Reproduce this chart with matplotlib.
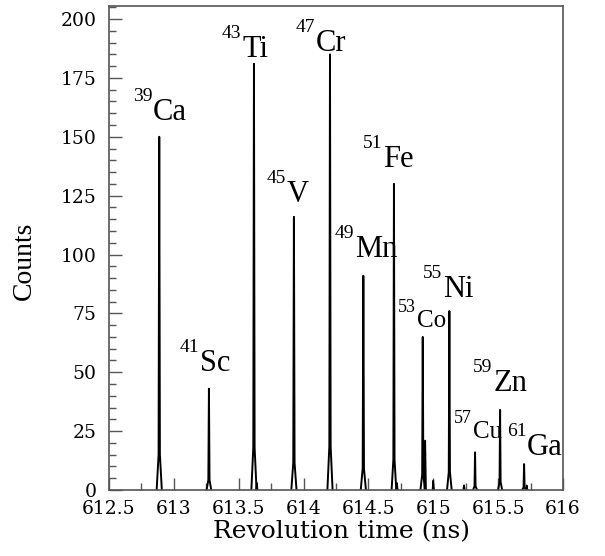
import numpy as np
import matplotlib
matplotlib.use("Agg")
import matplotlib.pyplot as plt
from matplotlib.ticker import MultipleLocator

# peak data
isotopes = ['39Ca', '41Sc', '43Ti', '45V', '47Cr', '49Mn', '51Fe',
            '53Co', '55Ni', '57Cu', '59Zn', '61Ga']
peak_time = [612.888, 613.271, 613.618, 613.926, 614.204, 614.461, 614.697,
             614.919, 615.124, 615.322, 615.515, 615.700]
peak_counts = [150, 43, 181, 116, 185, 91, 130, 65, 76, 16, 34, 11]
peak_halfwidth = [0.020, 0.018, 0.020, 0.020, 0.020, 0.020, 0.018,
                  0.018, 0.018, 0.016, 0.016, 0.016]

# shoulders and small background bins
extra_time = [614.938, 615.000, 615.237, 615.720, 613.640, 614.720]
extra_counts = [21, 4, 2, 2, 3, 3]

# where each label sits (left of mass number, text baseline)
label_x = [612.685, 613.047, 613.371, 613.718, 613.942, 614.242, 614.458,
           614.728, 614.921, 615.160, 615.306, 615.569]
label_y = [157.1, 50.5, 183.9, 122.3, 186.4, 98.9, 137.1,
           69.2, 81.9, 22.1, 42.0, 14.9]
small_labels = ['53Co', '57Cu']

fig = plt.figure(figsize=(6.05, 5.56), dpi=100)
ax = fig.add_axes([0.180, 0.1187, 0.7506, 0.8703])

for t, c, w in zip(peak_time, peak_counts, peak_halfwidth):
    ax.plot([t - w, t - w / 4, t, t + w / 4, t + w],
            [0, c * 0.1, c, c * 0.1, 0], color='black', lw=1.4)
for t, c in zip(extra_time, extra_counts):
    ax.plot([t - 0.006, t, t + 0.006], [0, c, 0], color='black', lw=1.2)

for name, x, y in zip(isotopes, label_x, label_y):
    mass = name[:2]
    elem = name[2:]
    if name in small_labels:
        fs, ms = 18, 13
    else:
        fs, ms = 22, 14
    cap = 0.662 * fs
    # mass number raised to the cap height of the symbol
    ax.annotate(mass, xy=(x, y), xytext=(0, cap - 1), textcoords='offset points',
                fontsize=ms, fontfamily='Liberation Serif',
                ha='left', va='baseline')
    ax.annotate(elem, xy=(x, y), xytext=(ms + 0.5, 0), textcoords='offset points',
                fontsize=fs, fontfamily='Liberation Serif',
                ha='left', va='baseline')

ax.set_xlim(612.5, 616)
ax.set_ylim(0, 205.5)
ax.xaxis.set_minor_locator(MultipleLocator(0.25))
ax.yaxis.set_major_locator(MultipleLocator(25))
ax.yaxis.set_minor_locator(MultipleLocator(5))
ax.set_xticks([612.5, 613, 613.5, 614, 614.5, 615, 615.5, 616])
ax.set_xticklabels(['612.5', '613', '613.5', '614', '614.5', '615', '615.5', '616'])

ax.tick_params(which='both', direction='in', colors='#555555',
               labelcolor='black', top=False, right=False)
ax.tick_params(which='major', length=9, width=1.0)
ax.tick_params(which='minor', length=5, width=1.0)
ax.tick_params(axis='y', pad=9)
ax.tick_params(axis='x', pad=7)
for lab in ax.get_xticklabels() + ax.get_yticklabels():
    lab.set_fontfamily('DejaVu Serif')
    lab.set_fontsize(13.5)

for sp in ax.spines.values():
    sp.set_color('#555555')
    sp.set_linewidth(1.2)

ax.set_xlabel('Revolution time (ns)', fontfamily='DejaVu Serif', fontsize=18)
ax.set_ylabel('Counts', fontfamily='Liberation Serif', fontsize=20)
ax.xaxis.set_label_coords(0.513, -0.063)
ax.yaxis.set_label_coords(-0.159, 0.473)

fig.savefig('out.png', dpi=100)
